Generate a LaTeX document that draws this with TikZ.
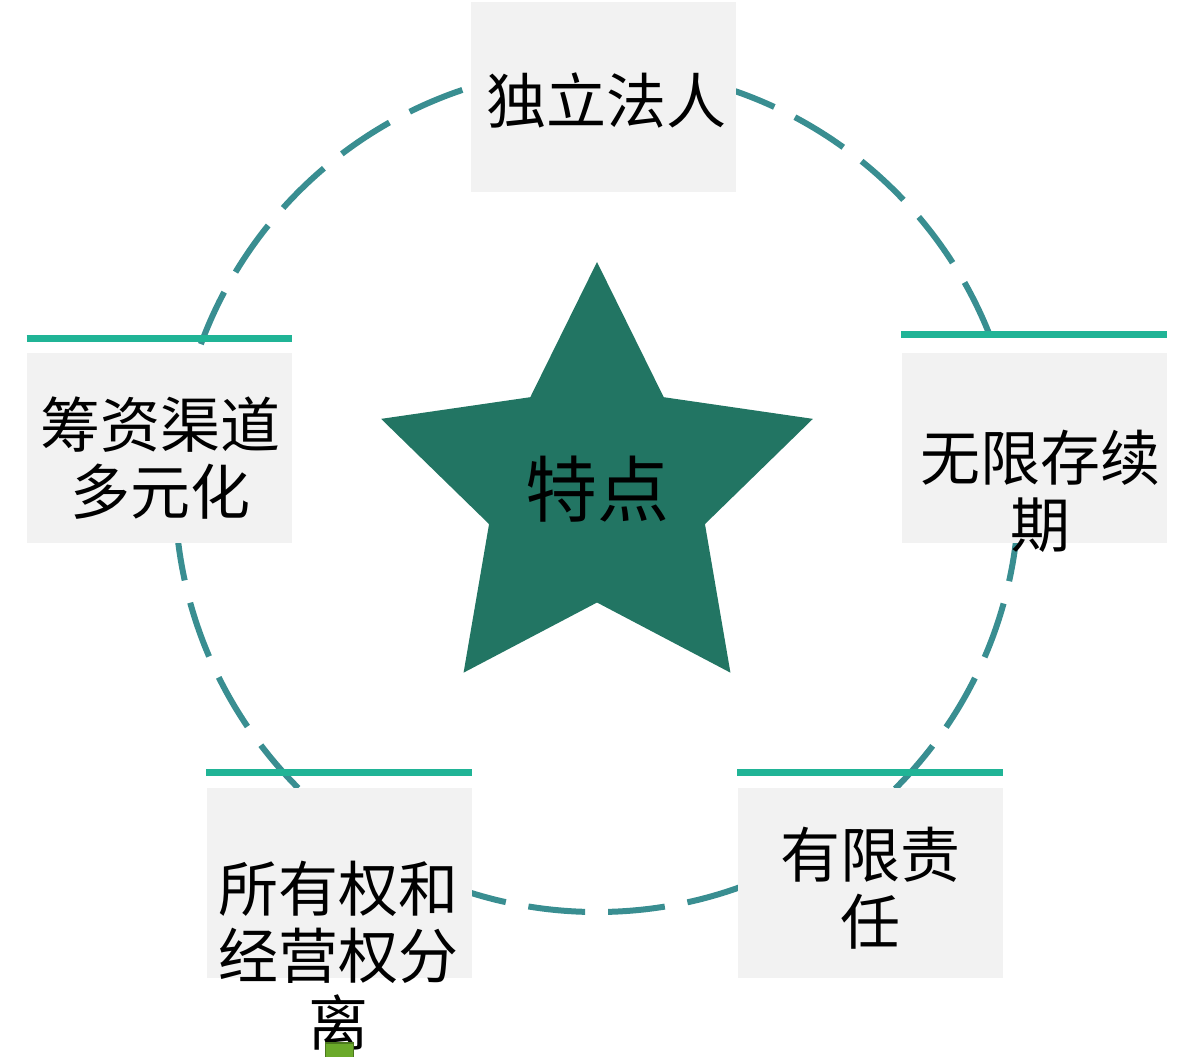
\documentclass[tikz,border=0pt]{standalone}
\usepackage{fontspec}
\setmainfont{Noto Sans CJK SC}
\usepackage{xcolor}
\usepackage{tikz}
\usetikzlibrary{positioning, shapes.geometric}

\definecolor{ringteal}{HTML}{398E91}
\definecolor{barteal}{HTML}{20B496}
\definecolor{starteal}{HTML}{227563}
\definecolor{boxgray}{HTML}{F2F2F2}
\definecolor{chipgreen}{HTML}{6BAA2A}

\begin{document}
\begin{tikzpicture}[
    x=0.5pt, y=-0.5pt,
    ring/.style={circle, draw=ringteal, line width=3pt, dash pattern=on 28.5pt off 11.5pt, minimum size=422pt, inner sep=0pt},
    starnode/.style={star, star points=5, star point ratio=2, fill=starteal, minimum size=227pt, inner sep=0pt, font=\fontsize{36}{40}\selectfont},
    box/.style={fill=boxgray, minimum width=132.5pt, minimum height=95pt, inner sep=0pt},
    txt/.style={align=center, inner sep=0pt, font=\fontsize{30}{33.5}\selectfont},
    bar/.style={draw=barteal, line width=3.5pt},
    chipbox/.style={fill=chipgreen, draw=chipgreen!70!black, line width=0.8pt, minimum width=14pt, minimum height=9pt, inner sep=0pt}
]
\useasboundingbox (0,0) rectangle (1187,1056);

% Ring and star
\node[ring] (ring) at (597,490) {};
\node[starnode] (star) at (597,489) {特点};

% Boxes
\node[box] (legal) at (603.5,97) {};
\node[box] (life) at (1034,448) {};
\node[box] (fund) at (159.5,448) {};
\node[box] (sep) at (339,883) {};
\node[box] (liab) at (870,883) {};

% Bars over the boxes
\draw[bar] ([yshift=9pt]life.north west) -- ([yshift=9pt]life.north east);
\draw[bar] ([yshift=7pt]fund.north west) -- ([yshift=7pt]fund.north east);
\draw[bar] ([yshift=7.5pt]sep.north west) -- ([yshift=7.5pt]sep.north east);
\draw[bar] ([yshift=7.5pt]liab.north west) -- ([yshift=7.5pt]liab.north east);

% Labels
\node[txt] (legal-t) at ([xshift=1.25pt,yshift=-1.5pt]legal.center) {独立法人};
\node[txt] (life-t) at ([xshift=3pt,yshift=-21.75pt]life.center) {无限存续\\期};
\node[txt] (fund-t) at ([xshift=0.25pt,yshift=-5.25pt]fund.center) {筹资渠道\\多元化};
\node[txt] (liab-t) at ([yshift=-2.75pt]liab.center) {有限责\\任};
\node[txt] (sep-t) at ([xshift=-0.5pt,yshift=-36.5pt]sep.center) {所有权和\\经营权分\\离};

\node[chipbox] (chip) at (339.5,1052) {};
\end{tikzpicture}
\end{document}
